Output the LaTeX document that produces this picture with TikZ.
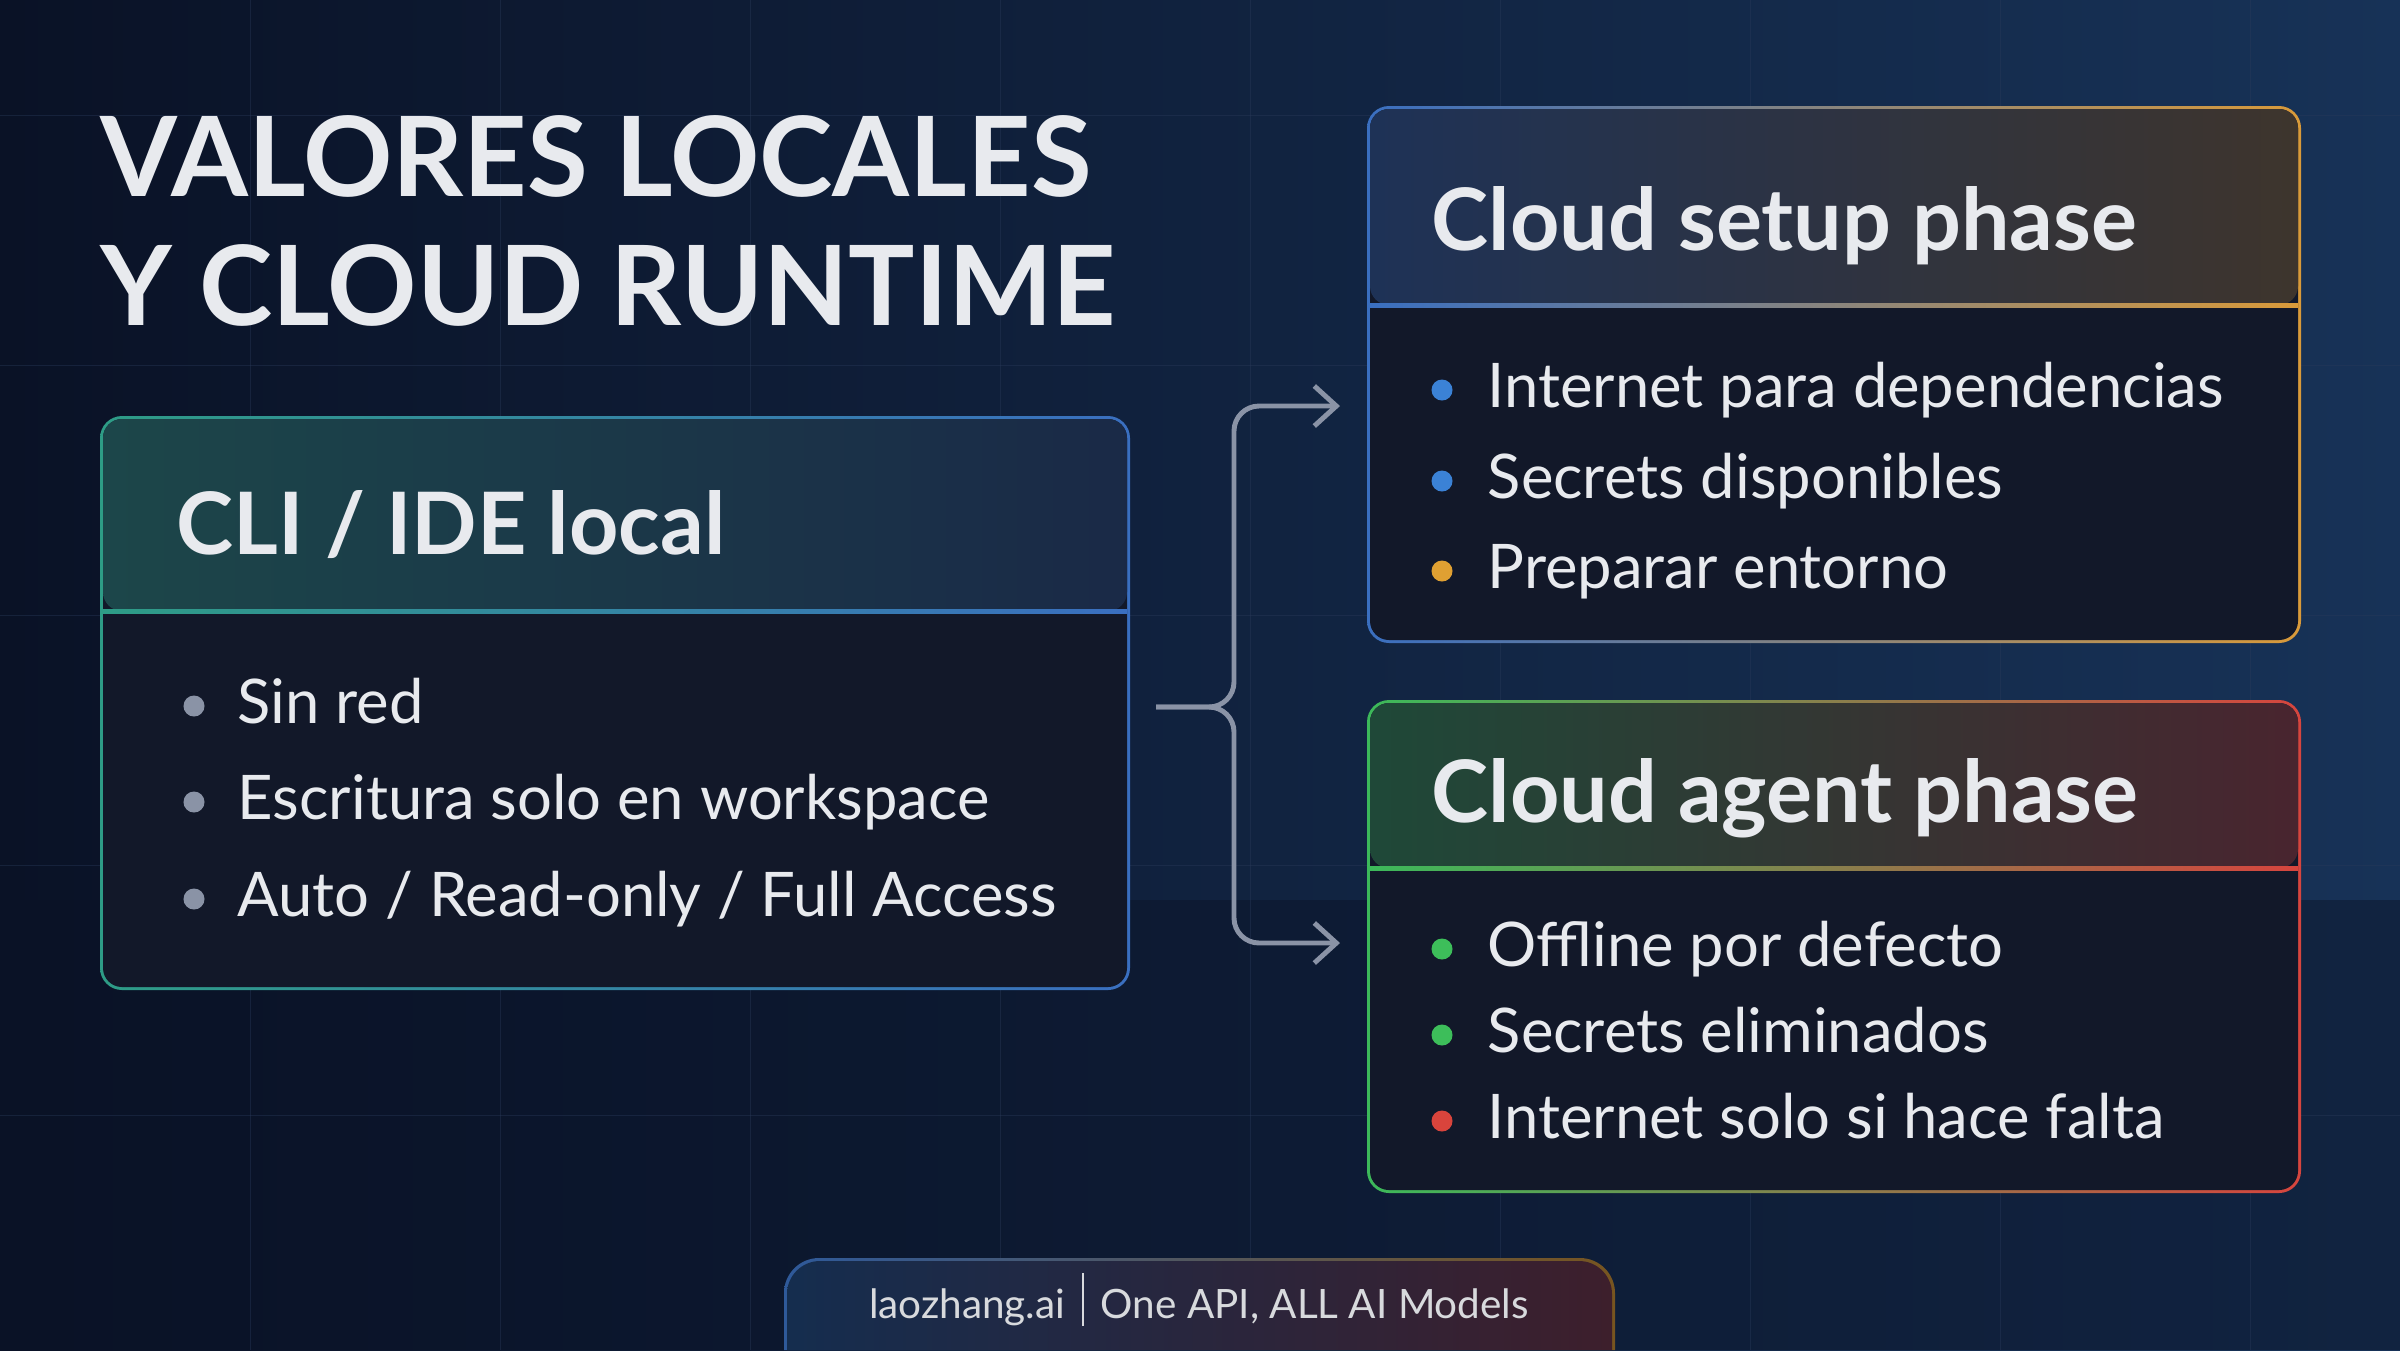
\documentclass[tikz,border=0pt]{standalone}
\usepackage{fontspec}
\setmainfont{Lato}
\usetikzlibrary{positioning,arrows.meta}
\definecolor{bgdark}{HTML}{0A1226}
\definecolor{bgblue}{HTML}{173257}
\definecolor{boxfill}{HTML}{121829}
\definecolor{gridc}{HTML}{2A3A5A}
\definecolor{linkc}{HTML}{8A93A6}
\definecolor{dotblue}{HTML}{3B82D6}
\definecolor{dotorange}{HTML}{E0A032}
\definecolor{dotgreen}{HTML}{3DBE5A}
\definecolor{dotred}{HTML}{D9443C}
\definecolor{dotgray}{HTML}{8A93A6}
\definecolor{bteal}{HTML}{2E9C86}
\definecolor{bblue}{HTML}{3A6FC0}
\definecolor{borange}{HTML}{D99A3A}
\definecolor{bgreen}{HTML}{3CB95A}
\definecolor{bred}{HTML}{D6453E}
\definecolor{txt}{HTML}{E8EAEE}
\begin{document}
\begin{tikzpicture}
[x=0.01cm,y=-0.01cm,
title/.style={anchor=base west,text=txt,font=\fontsize{31.5}{36}\selectfont\bfseries,inner sep=0pt},
head/.style={anchor=base west,text=txt,font=\fontsize{24.5}{30}\selectfont\bfseries,inner sep=0pt},
item/.style={anchor=base west,text=txt,font=\fontsize{17.5}{20}\selectfont,inner sep=0pt},
bullet/.style={circle,inner sep=0pt,minimum size=0.21cm},
link/.style={linkc,line width=1.4pt,rounded corners=0.25cm},
tip/.style={-{Straight Barb[length=0.22cm,width=0.4cm,line width=1.4pt]}}]

%background and grid
\useasboundingbox (0,0) rectangle (2400,1350);
\shade[left color=bgdark,right color=bgblue] (0,0) rectangle (2400,1350);
\fill[bgdark,opacity=0.45] (0,900) rectangle (2400,1350);
\foreach \x in {250,500,...,2250}
  \draw[gridc,opacity=0.4,very thin] (\x,0) -- (\x,1350);
\foreach \y in {115,365,615,865,1115}
  \draw[gridc,opacity=0.4,very thin] (0,\y) -- (2400,\y);

%title
\node[title] (t1) at (100,196) {VALORES LOCALES};
\node[title] (t2) at (100,325) {Y CLOUD RUNTIME};

%left box
\shade[rounded corners=0.22cm,left color=bteal,right color=bblue] (100,416) rectangle (1130,990);
\fill[boxfill,rounded corners=0.19cm] (103,419) rectangle (1127,987);
\shade[rounded corners=0.19cm,left color=bteal!35!boxfill,right color=bblue!20!boxfill] (103,611) -- (103,419) -- (1127,419) -- (1127,611) -- cycle;
\shade[left color=bteal,right color=bblue] (103,609) rectangle (1127,613);
\node[head] (lh) at (176,554) {CLI / IDE local};
\foreach \y/\t [count=\i] in {723/{Sin red},819/{Escritura solo en workspace},916/{Auto / Read-only / Full Access}}{
  \node[bullet,fill=dotgray] (ld\i) at (194,\y-17) {};
  \node[item] (li\i) at (237,\y) {\t};
}

%top right box
\shade[rounded corners=0.22cm,left color=bblue,right color=borange] (1367,106) rectangle (2301,643);
\fill[boxfill,rounded corners=0.19cm] (1370,109) rectangle (2298,640);
\shade[rounded corners=0.19cm,left color=bblue!30!boxfill,right color=borange!22!boxfill] (1370,305) -- (1370,109) -- (2298,109) -- (2298,305) -- cycle;
\shade[left color=bblue,right color=borange] (1370,303) rectangle (2298,307);
\node[head] (sh) at (1431,250) {Cloud setup phase};
\foreach \y/\c/\t [count=\i] in {407/dotblue/{Internet para dependencias},498/dotblue/{Secrets disponibles},588/dotorange/{Preparar entorno}}{
  \node[bullet,fill=\c] (sd\i) at (1442,\y-17) {};
  \node[item] (si\i) at (1487,\y) {\t};
}

%bottom right box
\shade[rounded corners=0.22cm,left color=bgreen,right color=bred] (1367,700) rectangle (2301,1193);
\fill[boxfill,rounded corners=0.19cm] (1370,703) rectangle (2298,1190);
\shade[rounded corners=0.19cm,left color=bgreen!30!boxfill,right color=bred!28!boxfill] (1370,868) -- (1370,703) -- (2298,703) -- (2298,868) -- cycle;
\shade[left color=bgreen,right color=bred] (1370,866) rectangle (2298,870);
\node[head] (ah) at (1431,822) {Cloud agent phase};
\foreach \y/\c/\t [count=\i] in {966/dotgreen/{Offline por defecto},1052/dotgreen/{Secrets eliminados},1138/dotred/{Internet solo si hace falta}}{
  \node[bullet,fill=\c] (ad\i) at (1442,\y-17) {};
  \node[item] (ai\i) at (1487,\y) {\t};
}

%connector
\coordinate (src) at (1156,707);
\coordinate (fork) at (1234,707);
\coordinate (up) at (1340,406);
\coordinate (down) at (1340,943);
\draw[link,tip] (src) -- (fork) -- (1234,406) -- (up);
\draw[link,tip] (src) -- (fork) -- (1234,943) -- (down);

%banner
\shade[rounded corners=0.35cm,left color=bblue!80!black,right color=borange!55!black] (784,1350) -- (784,1258) -- (1615,1258) -- (1615,1350);
\shade[rounded corners=0.33cm,left color=bgblue!90!black,right color=bred!25!bgdark] (787,1350) -- (787,1261) -- (1612,1261) -- (1612,1350);
\node[anchor=base,text=txt!85!gray,font=\fontsize{11.5}{14}\selectfont,inner sep=0pt] (brand) at (1199,1318) {laozhang.ai \,\rule[-0.4ex]{0.4pt}{2.6ex}\, One API, ALL AI Models};
\end{tikzpicture}
\end{document}
